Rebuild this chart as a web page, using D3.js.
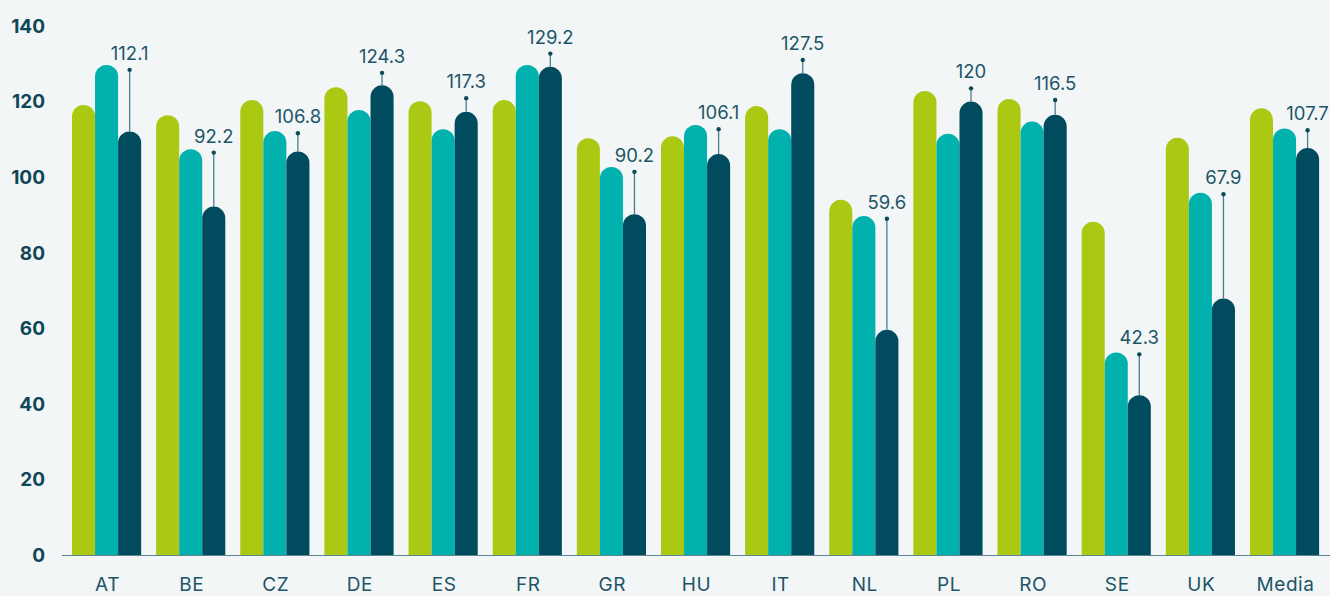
<!DOCTYPE html>
<html>
<head>
<meta charset="utf-8">
<script src="https://cdnjs.cloudflare.com/ajax/libs/d3/7.8.5/d3.min.js"></script>
<style>
  html, body { margin: 0; padding: 0; background: #f2f6f7; overflow: hidden; }
  svg { display: block; }
</style>
</head>
<body>
<div id="chart"></div>
<script>
// Chart size, same as the window.
var width = 1330;
var height = 596;

// Data.
var categories = ["AT", "BE", "CZ", "DE", "ES", "FR", "GR", "HU", "IT", "NL", "PL", "RO", "SE", "UK", "Media"];
var seriesNames = ["a", "b", "c"];
var valuesA = [119.1, 116.4, 120.4, 123.8, 120.1, 120.4, 110.3, 110.8, 118.8, 94.0, 122.8, 120.7, 88.2, 110.4, 118.2];
var valuesB = [129.7, 107.4, 112.2, 117.8, 112.7, 129.7, 102.7, 113.8, 112.7, 89.7, 111.5, 114.7, 53.6, 95.9, 112.9];
var valuesC = [112.1, 92.2, 106.8, 124.3, 117.3, 129.2, 90.2, 106.1, 127.5, 59.6, 120, 116.5, 42.3, 67.9, 107.7];
// top of the thin whisker above the dark bar
var upperC = [128.4, 106.5, 111.6, 127.6, 120.9, 132.7, 101.4, 112.7, 131.0, 89.0, 123.5, 120.4, 53.1, 95.5, 112.4];
var yTicks = [0, 20, 40, 60, 80, 100, 120, 140];

var colors = {"a": "#abc912", "b": "#00b1ad", "c": "#004b5d"};
var textColor = "#1d5567";

var rows = categories.map(function (c, i) {
    return {cat: c, a: valuesA[i], b: valuesB[i], c: valuesC[i], hi: upperC[i]};
});

var svg = d3.select("#chart").append("svg")
    .attr("width", width)
    .attr("height", height);

var x = d3.scaleBand()
    .domain(categories)
    .range([64.5, 1326.6])
    .paddingInner(0.178)
    .paddingOuter(0.089);

var xInner = d3.scaleBand()
    .domain(seriesNames)
    .range([0, x.bandwidth()]);

var y = d3.scaleLinear()
    .domain([0, 140])
    .range([555, 26]);

// y tick labels
svg.append("g").selectAll("text")
    .data(yTicks)
    .enter().append("text")
    .attr("x", 45)
    .attr("y", function (d) { return y(d); })
    .attr("dy", "0.36em")
    .attr("text-anchor", "end")
    .style("font-family", "Inter, 'Open Sans', sans-serif")
    .style("font-weight", 700)
    .style("font-size", "19px")
    .style("fill", "#0f4758")
    .text(function (d) { return d; });

// bar with a rounded top
function barPath(x0, w, v) {
    var r = w / 2;
    var top = y(v);
    var bottom = y(0);
    return "M" + x0 + "," + bottom +
        "V" + (top + r) +
        "A" + r + "," + r + " 0 0 1 " + (x0 + w) + "," + (top + r) +
        "V" + bottom + "Z";
}

var groups = svg.append("g").selectAll("g")
    .data(rows)
    .enter().append("g")
    .attr("transform", function (d) { return "translate(" + x(d.cat) + ",0)"; });

groups.selectAll("path")
    .data(function (d) {
        return seriesNames.map(function (k) { return {key: k, value: d[k]}; });
    })
    .enter().append("path")
    .attr("d", function (d) { return barPath(xInner(d.key), xInner.bandwidth(), d.value); })
    .style("fill", function (d) { return colors[d.key]; });

// whisker + value label over the dark bar
var cx = xInner("c") + xInner.bandwidth() / 2;

groups.append("line")
    .attr("x1", cx).attr("x2", cx)
    .attr("y1", function (d) { return y(d.c); })
    .attr("y2", function (d) { return y(d.hi); })
    .style("stroke", "#4c7d8c")
    .style("stroke-width", 1.3);

groups.append("circle")
    .attr("cx", cx)
    .attr("cy", function (d) { return y(d.hi); })
    .attr("r", 2.2)
    .style("fill", "#0e4a5a");

groups.append("text")
    .attr("x", cx)
    .attr("y", function (d) { return y(d.hi) - 10; })
    .attr("text-anchor", "middle")
    .style("font-family", "Inter, 'Open Sans', sans-serif")
    .style("font-size", "18.5px")
    .style("fill", textColor)
    .text(function (d) { return String(d.c); });

// x axis line and labels
svg.append("line")
    .attr("x1", 62).attr("x2", width)
    .attr("y1", y(0) + 0.5).attr("y2", y(0) + 0.5)
    .style("stroke", "#5d8594")
    .style("stroke-width", 1);

svg.append("g").selectAll("text")
    .data(categories)
    .enter().append("text")
    .attr("x", function (d) { return x(d) + x.bandwidth() / 2 + 1; })
    .attr("y", 591)
    .attr("text-anchor", "middle")
    .style("font-family", "Inter, 'Open Sans', sans-serif")
    .style("font-size", "19px")
    .style("letter-spacing", "0.6px")
    .style("fill", textColor)
    .text(function (d) { return d; });
</script>
</body>
</html>
